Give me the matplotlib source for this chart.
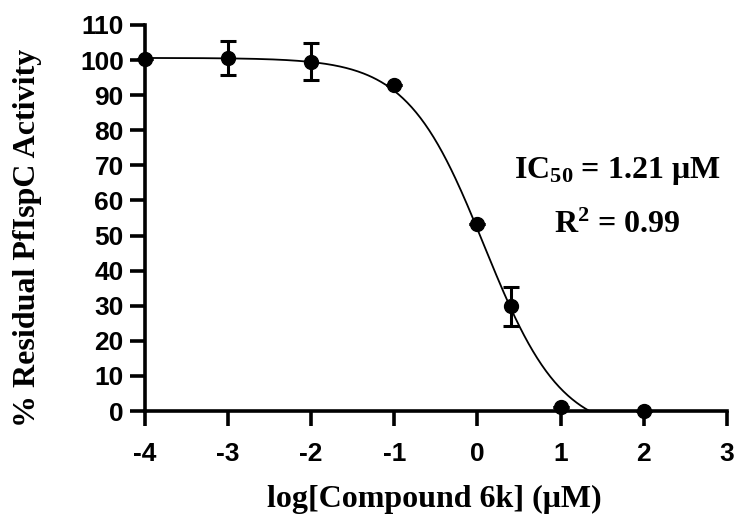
import matplotlib.pyplot as plt
import numpy as np

plt.rcParams["mathtext.fontset"] = "custom"
plt.rcParams["mathtext.rm"] = "Liberation Serif:bold"
plt.rcParams["mathtext.it"] = "Liberation Serif:bold"
plt.rcParams["mathtext.bf"] = "Liberation Serif:bold"

# measured points (log concentration, % residual activity, SD)
log_conc = [-4, -3, -2, -1, 0, 0.4, 1, 2]
activity = [100.3, 100.5, 99.5, 92.8, 53.2, 29.8, 1.2, 0.0]
sd = [0, 4.8, 5.3, 0, 0, 5.5, 0, 0]

# four-parameter logistic fit
fit_top = 100.6
fit_bottom = -6.5
fit_log_ic50 = 0.083
fit_hill = 0.94

x_ticks = [-4, -3, -2, -1, 0, 1, 2, 3]
y_ticks = list(range(0, 111, 10))

fig = plt.figure(figsize=(7.38, 5.19), dpi=100)
ax = fig.add_axes([0.196, 0.208, 0.789, 0.744])

xs = np.linspace(-4, 3, 400)
curve = fit_bottom + (fit_top - fit_bottom) / (1 + 10 ** ((xs - fit_log_ic50) * fit_hill))
ax.plot(xs, curve, color="black", linewidth=1.3)

ax.errorbar(log_conc, activity, yerr=sd, fmt="o", color="black", markersize=10,
            elinewidth=2.2, capsize=5.5, capthick=2.2, clip_on=False, zorder=5)

ax.set_xlim(-4, 3)
ax.set_ylim(0, 110)
ax.set_xticks(x_ticks)
ax.set_yticks(y_ticks)
ax.set_xticklabels([str(t) for t in x_ticks])

for side in ["top", "right"]:
    ax.spines[side].set_visible(False)
for side in ["left", "bottom"]:
    ax.spines[side].set_linewidth(2.6)

ax.tick_params(width=2.6, length=11, direction="out")
ax.tick_params(axis="x", pad=11)
ax.tick_params(axis="y", pad=4)
for lab in ax.get_xticklabels() + ax.get_yticklabels():
    lab.set_fontfamily("Liberation Sans")
    lab.set_fontweight("bold")
    lab.set_fontsize(19)

ax.set_xlabel("log[Compound 6k] (\u03bcM)", fontfamily="Liberation Serif",
              fontweight="bold", fontsize=23)
ax.set_ylabel("% Residual PfIspC Activity", fontfamily="Liberation Serif",
              fontweight="bold", fontsize=23)
ax.xaxis.set_label_coords(0.497, -0.19)
ax.yaxis.set_label_coords(-0.177, 0.449)

ax.text(1.68, 68.5, "IC$_{50}$ = 1.21 \u03bcM", ha="center", va="center",
        fontfamily="Liberation Serif", fontweight="bold", fontsize=23)
ax.text(1.68, 53, "R$^{2}$ = 0.99", ha="center", va="center",
        fontfamily="Liberation Serif", fontweight="bold", fontsize=23)

fig.savefig("out.png", dpi=100)
